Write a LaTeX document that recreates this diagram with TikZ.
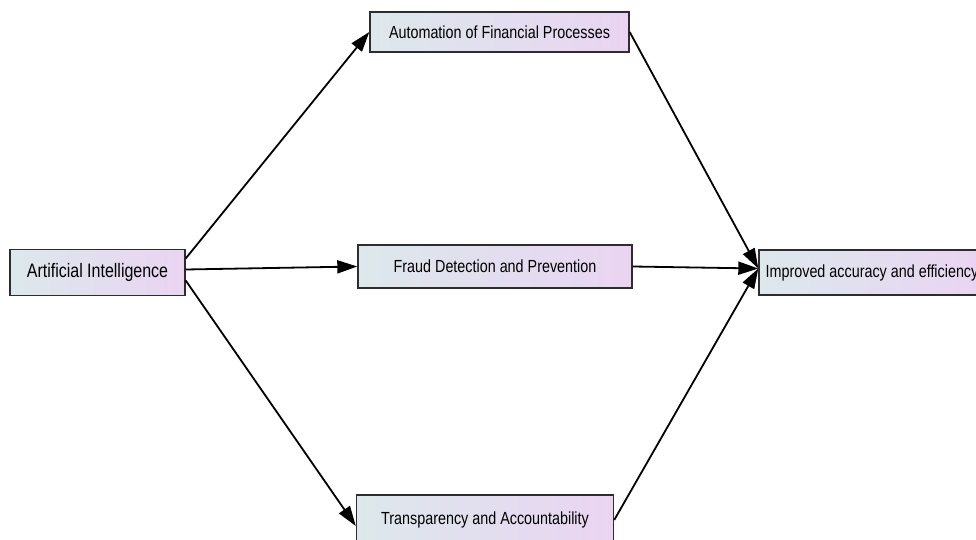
\documentclass[tikz,border=0pt]{standalone}
\usepackage{fontspec}
\setmainfont{Liberation Sans}
\newfontfamily\boxfont[FakeStretch=0.82]{Liberation Sans}
\usepackage{tikz}
\usetikzlibrary{arrows.meta, positioning}
\definecolor{boxleft}{RGB}{220,232,236}
\definecolor{boxright}{RGB}{234,212,242}
\definecolor{boxline}{RGB}{45,45,45}
\tikzset{
	flow/.style={-{Triangle[length=20pt,width=13pt]}, line width=1.8pt, black},
}

\begin{document}
\begin{tikzpicture}[x=1pt, y=-1pt]

			\tikzstyle{box}=[rectangle, draw=boxline, line width=1.4pt, left color=boxleft, right color=boxright, minimum height=46pt, inner sep=4pt, font=\boxfont\fontsize{17.5}{20}\selectfont, text centered]
			\tikzstyle{bigbox}=[box, font=\boxfont\fontsize{19.5}{22}\selectfont]

			\useasboundingbox (0,0) rectangle (976,540);

			\node at (97.5,272.5) (ai) [bigbox, minimum width=175pt] {Artificial Intelligence};
			\node at (499.5,32) (automation) [box, minimum width=259pt, minimum height=40pt] {Automation of Financial Processes};
			\node at (495,266.5) (fraud) [box, minimum width=274pt, minimum height=43pt] {Fraud Detection and Prevention};
			\node at (485,520) (transparency) [box, minimum width=257pt, minimum height=50pt] {Transparency and Accountability};
			\node at (872,272.5) (improved) [box, minimum width=226pt, minimum height=45pt] {Improved accuracy and efficiency};

			\draw[flow] ([yshift=14pt]ai.east) -- (automation.west);
			\draw[flow] ([yshift=3pt]ai.east) -- (fraud.west);
			\draw[flow] ([yshift=-8pt]ai.east) -- ([yshift=-6pt]transparency.west);
			\draw[flow] (automation.east) -- ([yshift=4pt]improved.west);
			\draw[flow] (fraud.east) -- ([yshift=4pt]improved.west);
			\draw[flow] (transparency.east) -- ([yshift=4pt]improved.west);
		\end{tikzpicture}
\end{document}
